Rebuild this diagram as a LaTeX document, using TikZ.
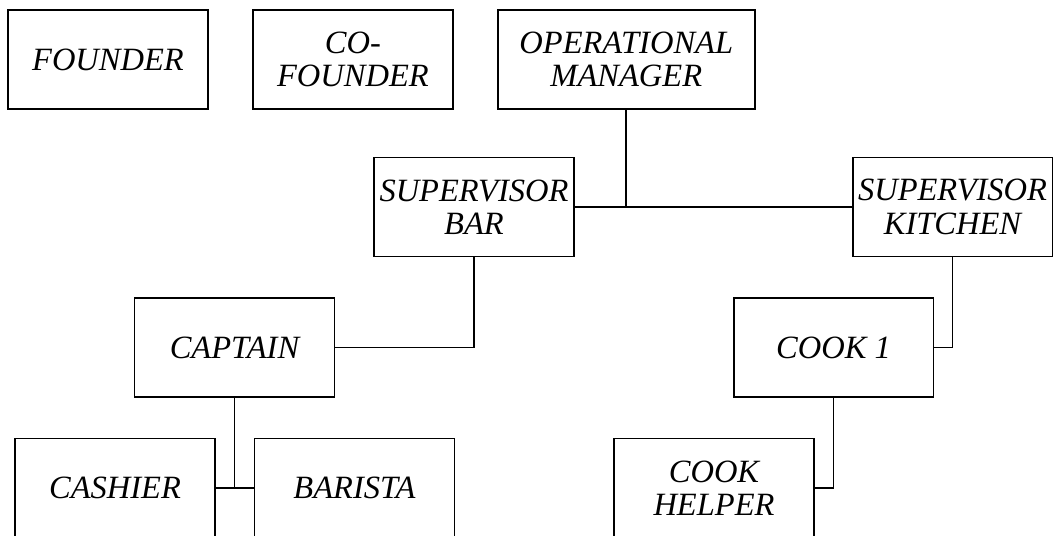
\documentclass[tikz,border=0pt]{standalone}
\usepackage{fontspec}
\setmainfont{Liberation Serif}
\usetikzlibrary{positioning}

\begin{document}
\begin{tikzpicture}[
  x=0.02cm, y=-0.02cm,
  node distance=0.86cm,
  post/.style={draw, line width=1.1pt, minimum width=4cm, minimum height=1.98cm,
               align=center, inner sep=2pt,
               font=\itshape\fontsize{18.5}{19}\selectfont},
  link/.style={draw, line width=1.1pt},
]
  \useasboundingbox (0,0) rectangle (1053,536);

  % top row
  \node[post] (founder) at (108,59.5) {FOUNDER};
  \node[post, right=of founder] (cofounder) {CO-\\FOUNDER};
  \node[post, right=of cofounder, minimum width=5.14cm] (opman) {OPERATIONAL\\MANAGER};

  % supervisors
  \node[post] (supbar) at (474,207) {SUPERVISOR\\BAR};
  \node[post] (supkit) at (952.5,207) {SUPERVISOR\\KITCHEN};

  % staff
  \node[post] (captain) at (234.5,347.5) {CAPTAIN};
  \node[post] (cook) at (833.5,347.5) {COOK 1};
  \node[post] (cashier) at (115,488) {CASHIER};
  \node[post] (barista) at (354.5,488) {BARISTA};
  \node[post] (helper) at (714,488) {COOK\\HELPER};

  % lines
  \path[link] (supbar.east) -- (supkit.west);
  \path[link] (opman.south) -- (opman.south |- supbar.east);
  \path[link] (supbar.south) |- (captain.east);
  \path[link] (supkit.south) |- (cook.east);
  \path[link] (cashier.east) -- (barista.west);
  \path[link] (captain.south) -- (captain.south |- cashier.east);
  \path[link] (cook.south) |- (helper.east);
\end{tikzpicture}
\end{document}
